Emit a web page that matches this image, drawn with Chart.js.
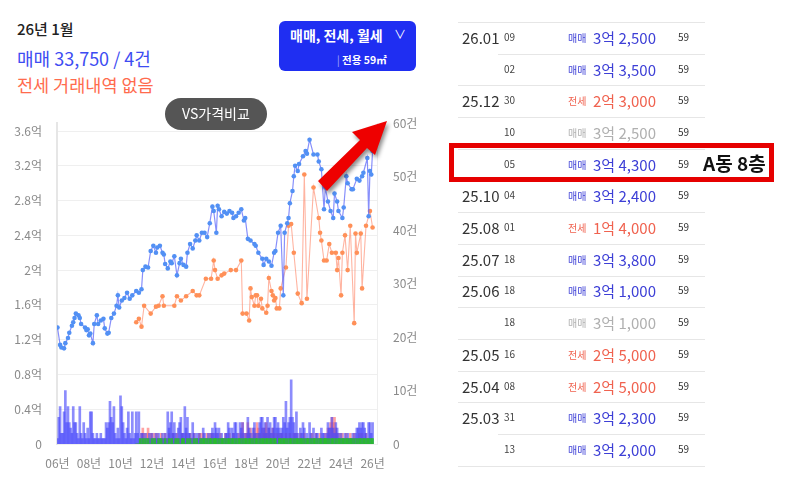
<!DOCTYPE html>
<html><head><meta charset="utf-8">
<script src="https://cdn.jsdelivr.net/npm/chart.js@4.4.1/dist/chart.umd.min.js"></script>
<style>
body{margin:0;width:785px;height:478px;background:#fff;position:relative;overflow:hidden;font-family:"Noto Sans CJK KR","Noto Sans",sans-serif;}
.abs{position:absolute;white-space:nowrap;line-height:1;}
#chartBox{position:absolute;left:0;top:100px;width:430px;height:378px;}
</style></head><body>
<div class="abs" style="left:17px;top:21px;font-size:15px;color:#222;font-weight:500">26년 1월</div>
<div class="abs" style="left:17px;top:49px;font-size:18px;color:#3d4cf2">매매 33,750 / 4건</div>
<div class="abs" style="left:17px;top:76px;font-size:17.5px;color:#ff6b4d">전세 거래내역 없음</div>
<div class="abs" style="left:279px;top:21px;width:137px;height:50px;background:#1f2ef2;border-radius:6px"></div>
<div class="abs" style="left:290px;top:28px;font-size:14px;font-weight:700;color:#fff">매매, 전세, 월세</div>
<div class="abs" style="left:394px;top:28px;font-size:12px;color:#fff">∨</div>
<div class="abs" style="left:337px;top:55px;font-size:10.5px;font-weight:700;color:#fff"><span style="font-weight:300;opacity:.8">|</span> 전용 59㎡</div>

<div id="chartBox"><canvas id="c"></canvas></div>

<div class="abs" style="left:165px;top:98px;width:102px;height:32px;background:#555;border-radius:16px"></div>
<div class="abs" style="left:165px;top:106px;width:102px;text-align:center;font-size:14px;color:#fff">VS가격비교</div>

<svg class="abs" style="left:0;top:0;filter:drop-shadow(2px 3px 2px rgba(0,0,0,0.45))" width="785" height="478">
  <polygon points="318,181 327,191 367,148 375,155 387,121 352,132 360,140" fill="#ee0000"/>
</svg>

<div id="table"></div>
<div class="abs" style="left:449px;top:143px;width:315px;height:29px;border:5px solid #e60000"></div>
<div class="abs" style="left:703px;top:153px;font-size:19px;font-weight:700;color:#111">A동 8층</div>

<script>
// ---- chart data ----
const saleMonths = [0,2,3,5,6,8,9,11,12,13,14,16,17,18,21,22,23,24,25,27,28,30,31,33,35,36,38,39,41,43,45,46,47,49,51,53,55,57,60,62,64,65,67,69,71,73,75,76,78,80,81,82,84,86,87,89,91,93,94,96,98,99,101,103,105,106,108,110,112,114,116,118,119,121,122,123,125,127,129,131,133,134,136,138,140,142,143,145,147,150,151,153,156,157,159,161,163,165,166,168,170,172,173,175,176,177,179,180,181,183,184,187,189,190,192,195,198,199,201,203,204,206,208,210,211,213,214,217,218,220,221,224,225,228,230,232,233,236,237,238,239,240];
const salePrices = [1.34,1.14,1.11,1.10,1.16,1.22,1.28,1.36,1.40,1.45,1.50,1.48,1.45,1.38,1.34,1.31,1.32,1.25,1.27,1.16,1.38,1.48,1.38,1.42,1.44,1.33,1.27,1.28,1.45,1.50,1.59,1.71,1.57,1.65,1.68,1.74,1.67,1.71,1.76,1.74,1.78,2.00,2.04,2.03,2.22,2.28,2.20,2.26,2.28,2.20,2.18,2.07,2.02,2.10,2.08,2.16,1.94,2.08,2.13,2.06,2.04,2.20,2.30,2.25,2.34,2.40,2.34,2.43,2.43,2.38,2.54,2.73,2.68,2.43,2.74,2.70,2.62,2.67,2.65,2.68,2.66,2.60,2.62,2.66,2.70,2.57,2.60,2.36,2.34,2.30,2.28,2.20,2.13,2.06,2.13,2.10,2.05,2.20,2.22,2.43,2.51,1.71,2.43,2.54,2.60,2.77,2.91,3.08,3.20,3.14,3.22,3.31,3.37,3.34,3.50,3.33,3.33,3.25,3.16,2.70,2.95,2.79,2.68,2.60,2.88,2.79,2.68,2.60,2.72,3.08,3.00,2.93,2.93,3.05,3.03,3.08,3.12,3.29,2.62,3.14,3.10,3.37];
const jeonseMonths = [60,62,64,66,71,75,77,80,81,89,91,94,98,103,106,108,113,117,119,120,122,125,127,132,136,140,141,144,146,147,148,150,151,152,153,155,156,159,160,161,163,164,165,166,167,169,170,174,176,178,180,183,186,188,190,195,199,200,201,203,205,207,209,212,213,214,216,217,219,221,223,226,227,228,231,232,235,238,240];
const jeonsePrices = [1.40,1.44,1.35,1.59,1.50,1.58,1.59,1.70,1.59,1.59,1.70,1.65,1.70,1.76,1.71,1.71,1.90,1.90,2.11,2.00,1.90,1.94,1.96,2.00,2.00,2.11,1.50,1.50,1.42,1.79,1.69,1.59,1.71,1.71,1.59,1.67,1.56,1.51,1.59,1.91,1.76,1.71,1.65,1.68,1.56,1.56,1.79,2.03,2.51,2.53,2.20,1.73,1.62,3.10,1.67,2.95,2.60,2.43,2.34,2.11,2.11,2.30,2.20,2.20,2.00,2.14,1.71,2.20,2.40,2.00,2.51,1.39,2.42,2.20,2.42,1.79,2.51,2.68,2.49];
// monthly volumes (건), sale from 2006-01, jeonse / rent from 2011-01
const saleVolume = [
1,5,7,2,2,6,10,4,7,4,3,2, 7,4,4,2,1,7,2,1,4,2,1,3, 1,6,6,2,1,1,2,1,1,2,1,1, 1,4,3,4,8,5,4,7,2,1,3,1,
9,7,4,2,1,3,6,2,1,6,1,2, 6,2,6,1,2,2,1,2,1,1,2,1, 2,1,1,2,1,2,1,1,2,1,2,1, 6,3,4,6,2,4,2,1,3,4,5,2,
2,7,3,5,2,2,1,4,2,1,2,1, 2,1,1,3,2,1,1,2,1,2,3,2, 4,3,2,3,1,2,1,1,2,2,4,3, 1,3,2,4,4,2,1,4,3,4,2,1,
2,5,3,2,1,3,4,2,1,2,4,5, 5,3,4,2,5,3,4,2,3,5,5,3, 4,3,2,3,5,4,8,3,4,5,12,5, 4,2,6,2,1,3,2,4,3,1,2,1,
4,2,1,3,1,2,2,1,1,3,2,2, 1,2,4,3,3,5,3,2,4,3,2,1, 2,1,1,2,1,2,1,1,1,2,1,2, 3,3,4,3,4,4,3,2,1,4,4,2, 4];
const jeonseVolume = [
0,0,0,1,2,3,2,1,2,3,1,2, 2,1,2,1,2,1,1,2,1,1,2,1, 1,2,1,1,2,1,1,2,1,1,1,2, 1,1,2,1,1,2,1,1,2,1,1,1,
2,2,1,2,1,1,2,1,2,1,2,1, 1,2,1,1,2,1,1,1,2,1,1,2, 1,1,2,1,1,1,2,1,2,4,1,2, 2,4,2,3,1,2,3,2,4,3,2,1,
3,2,3,4,2,3,2,1,3,2,1,2, 1,2,1,2,1,1,2,1,1,2,1,1, 2,1,2,1,1,2,1,1,2,1,1,1, 1,1,2,1,1,2,1,1,2,1,1,1,
2,1,3,2,4,5,4,5,3,2,1,2, 1,2,1,1,2,1,1,2,1,1,2,1, 1,1,2,1,2,1,1,2,1,1,1,1, 0];
const rentVolume = [
0,0,0,1,0,1,0,1,0,1,0,0, 1,0,1,0,0,1,0,1,0,0,1,0, 0,1,0,1,0,0,1,0,1,0,0,1, 1,0,0,1,0,1,0,0,1,0,1,0,
0,1,0,1,1,0,1,0,1,1,0,1, 1,1,0,1,0,1,1,0,1,0,1,1, 0,1,1,0,1,0,1,1,0,1,0,1, 1,0,1,1,0,1,0,1,1,0,1,0,
1,1,0,1,1,0,1,1,0,1,1,0, 0,1,1,0,1,1,0,1,0,1,1,0, 1,0,1,1,0,1,1,0,1,0,1,1, 0,1,0,1,1,0,1,0,1,1,0,1,
1,1,0,1,0,1,1,0,1,0,1,1, 0,1,1,0,1,1,0,1,1,0,1,0, 1,0,1,1,0,1,1,0,1,1,0,1, 1];
const priceTicks = [0,0.4,0.8,1.2,1.6,2,2.4,2.8,3.2,3.6];
const countTicks = [0,10,20,30,40,50,60];
const yearTicks = [2006,2008,2010,2012,2014,2016,2018,2020,2022,2024,2026];

const toYear = (base, m) => base + m / 12;
const pts = (months, vals, base) => months.map((m, i) => ({x: toYear(base, m), y: vals[i]}));
const bars = (vals, base) => vals.map((v, i) => ({x: toYear(base, i), y: v}));

const tickFont = {family: '"Noto Sans CJK KR","Noto Sans",sans-serif', size: 12};
new Chart(document.getElementById('c'), {
  data: {
    datasets: [
      {type:'line', data: pts(saleMonths, salePrices, 2006), yAxisID:'y', order:0,
       borderColor:'rgba(95,105,250,0.75)', borderWidth:1.2, pointBackgroundColor:'#5290f4', pointBorderWidth:0, pointRadius:2.3, tension:0},
      {type:'line', data: pts(jeonseMonths, jeonsePrices, 2006), yAxisID:'y', order:1,
       borderColor:'rgba(255,140,110,0.65)', borderWidth:1.1, pointBackgroundColor:'#ff9058', pointBorderWidth:0, pointRadius:2.3, tension:0},
      {type:'bar', data: bars(rentVolume, 2011), yAxisID:'y2', order:2, backgroundColor:'rgba(40,190,40,0.85)', barThickness:2, grouped:false},
      {type:'bar', data: bars(saleVolume, 2006), yAxisID:'y2', order:3, backgroundColor:'rgba(70,70,250,0.62)', barThickness:2, grouped:false},
      {type:'bar', data: bars(jeonseVolume, 2011), yAxisID:'y2', order:4, backgroundColor:'rgba(255,100,100,0.6)', barThickness:2, grouped:false}
    ]
  },
  options: {
    responsive:true, maintainAspectRatio:false, animation:false,
    layout:{padding:{top:0, left:0, right:0, bottom:0}},
    plugins:{legend:{display:false}, tooltip:{enabled:false}},
    scales:{
      x:{type:'linear', min:2005.97, max:2026.28, offset:false,
         afterBuildTicks:s=>{s.ticks = yearTicks.map(v=>({value:v}));},
         afterFit:s=>{s.height=34;},
         grid:{display:false, drawTicks:false}, border:{display:false},
         ticks:{font:tickFont, color:'#8a8a8a', padding:12, maxRotation:0, autoSkip:false,
                callback:v=>String(v).slice(2)+'년'}},
      y:{position:'left', min:0, max:3.69,
         afterBuildTicks:s=>{s.ticks = priceTicks.map(v=>({value:v}));},
         afterFit:s=>{s.width=57;},
         grid:{color:'#efefef', drawTicks:false}, border:{color:'#e6e6e6', width:2},
         ticks:{font:tickFont, color:'#8a8a8a', padding:15,
                callback:v=>v===0?'0':(Math.round(v*10)/10)+'억'}},
      y2:{position:'right', min:0, max:60,
         afterBuildTicks:s=>{s.ticks = countTicks.map(v=>({value:v}));},
         afterFit:s=>{s.width=53;},
         grid:{display:false, drawTicks:false}, border:{color:'#eeeeee', width:1},
         ticks:{font:tickFont, color:'#8a8a8a', padding:16,
                callback:v=>v===0?'0':v+'건'}}
    }
  }
});

// ---- table ----
const tMonths = ['26.01','','25.12','','','25.10','25.08','25.07','25.06','','25.05','25.04','25.03',''];
const tDays = ['09','02','30','10','05','04','01','18','18','18','16','08','31','13'];
const tTypes = ['매매','매매','전세','매매','매매','매매','전세','매매','매매','매매','전세','전세','매매','매매'];
const tPrices = ['3억 2,500','3억 3,500','2억 3,000','3억 2,500','3억 4,300','3억 2,400','1억 4,000','3억 3,800','3억 1,000','3억 1,000','2억 5,000','2억 5,000','3억 2,300','3억 2,000'];
const tState = ['b','b','r','g','b','b','r','b','b','g','r','r','b','b'];
const tArea = '59';
const colors = {b:'#3d3fd6', r:'#f0624f', g:'#b0b0b0'};
const tb = document.getElementById('table');
let html = '';
const top0 = 22, rowH = 31.7;
html += `<div class="abs" style="left:458px;top:${top0}px;width:247px;height:1px;background:#e6e6e6"></div>`;
for (let i = 0; i < tDays.length; i++) {
  const cy = top0 + rowH * (i + 0.5);
  const c = colors[tState[i]];
  if (tMonths[i]) html += `<div class="abs" style="left:462px;top:${cy-8}px;font-size:15px;color:#333">${tMonths[i]}</div>`;
  html += `<div class="abs" style="left:504px;top:${cy-6}px;font-size:10px;color:#444">${tDays[i]}</div>`;
  html += `<div class="abs" style="left:568px;top:${cy-5}px;font-size:10px;color:${c}">${tTypes[i]}</div>`;
  html += `<div class="abs" style="left:593px;top:${cy-8}px;font-size:15px;color:${c}">${tPrices[i]}</div>`;
  html += `<div class="abs" style="left:678px;top:${cy-6}px;font-size:10px;color:#333">${tArea}</div>`;
  const indent = (i < tDays.length - 1 && tMonths[i+1] === '' && (i === 0 || i === 12));
  const lx = indent ? 498 : 458;
  html += `<div class="abs" style="left:${lx}px;top:${Math.round(top0 + rowH*(i+1))}px;width:${705-lx}px;height:1px;background:#e6e6e6"></div>`;
}
tb.innerHTML = html;
</script>
</body></html>
